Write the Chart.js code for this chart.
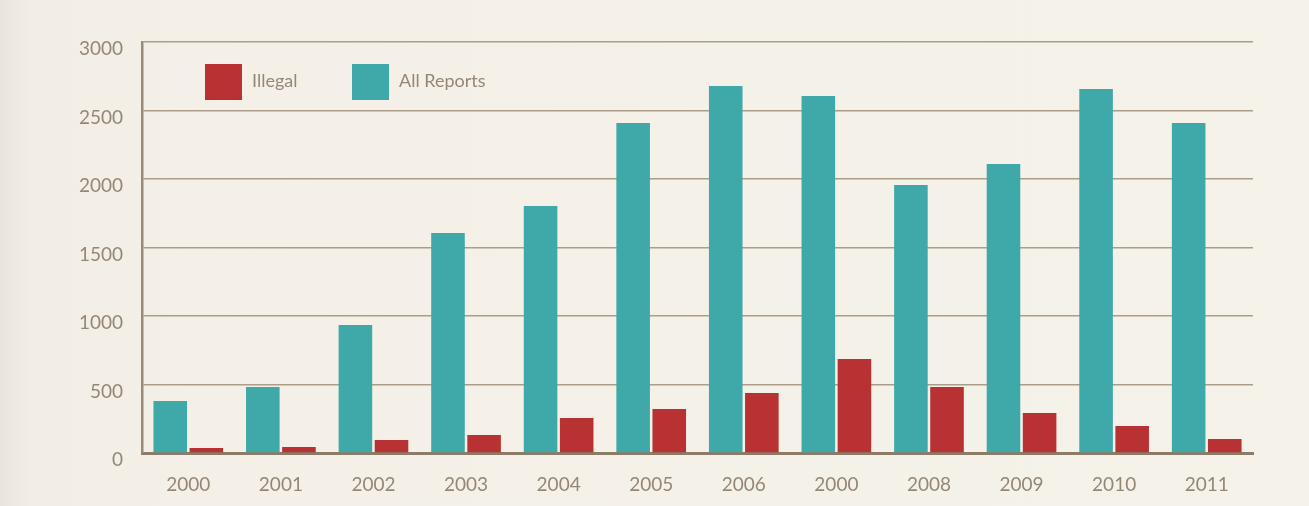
<!DOCTYPE html>
<html lang="en">
<head>
  <meta charset="UTF-8" />
  <title>Illegal vs All Reports</title>
  <script src="https://cdn.jsdelivr.net/npm/chart.js"></script>
  <style>
    html, body {
      margin: 0;
      padding: 0;
      width: 1309px;
      height: 506px;
      overflow: hidden;
    }
    body {
      background: #f3efe6;
      background-image: linear-gradient(to right, #e9e5dc 0px, #f2eee5 30px, #f4f0e8 200px, #f5f2ea 100%);
    }
    canvas {
      display: block;
    }
  </style>
</head>
<body>
  <canvas id="reportsChart" width="1309" height="506"></canvas>

  <script>
    const years = ['2000', '2001', '2002', '2003', '2004', '2005', '2006', '2000', '2008', '2009', '2010', '2011'];
    const allReports = [380, 482, 934, 1606, 1803, 2409, 2679, 2606, 1956, 2109, 2657, 2409];
    const illegal = [36, 44, 95, 131, 255, 321, 438, 686, 482, 292, 197, 102];
    const yTicks = [0, 500, 1000, 1500, 2000, 2500, 3000];

    const teal = '#3fa8a8';
    const red = '#b83233';
    const textColor = '#958776';
    const fontFamily = 'Lato, "Open Sans", sans-serif';

    // legend sits inside the plot, Illegal first
    const insideLegend = {
      id: 'insideLegend',
      afterDraw(chart) {
        const ctx = chart.ctx;
        const items = [
          { label: chart.data.datasets[1].label, color: red, x: 205 },
          { label: chart.data.datasets[0].label, color: teal, x: 352 }
        ];
        ctx.save();
        ctx.font = '18px ' + fontFamily;
        ctx.textBaseline = 'middle';
        items.forEach(it => {
          ctx.fillStyle = it.color;
          ctx.fillRect(it.x, 64, 37, 36);
          ctx.fillStyle = textColor;
          ctx.fillText(it.label, it.x + 47, 81);
        });
        ctx.restore();
      }
    };

    const ctx = document.getElementById('reportsChart').getContext('2d');
    new Chart(ctx, {
      type: 'bar',
      data: {
        labels: years,
        datasets: [
          { label: 'All Reports', data: allReports, backgroundColor: teal },
          { label: 'Illegal', data: illegal, backgroundColor: red }
        ]
      },
      options: {
        responsive: false,
        animation: false,
        layout: { padding: { top: 42, right: 56, left: 0, bottom: 0 } },
        plugins: {
          legend: { display: false },
          tooltip: { enabled: false }
        },
        datasets: {
          bar: { categoryPercentage: 0.78, barPercentage: 0.93 }
        },
        scales: {
          x: {
            grid: { display: false },
            border: { display: true, color: '#8c7b66', width: 3 },
            ticks: {
              color: textColor,
              font: { family: fontFamily, size: 19 },
              padding: 12,
              maxRotation: 0,
              autoSkip: false
            },
            afterFit(scale) { scale.height = 53; }
          },
          y: {
            min: 0,
            max: 3000,
            afterBuildTicks(scale) {
              scale.ticks = yTicks.map(v => ({ value: v }));
            },
            grid: {
              color: '#ab9d88',
              lineWidth: 1.5,
              drawTicks: false
            },
            border: { display: true, color: '#9a8a74', width: 2.5 },
            ticks: {
              color: textColor,
              font: { family: fontFamily, size: 19 },
              padding: 19,
              labelOffset: 7,
              autoSkip: false,
              callback: v => String(v)
            },
            afterFit(scale) { scale.width = 142; }
          }
        }
      },
      plugins: [insideLegend]
    });
  </script>
</body>
</html>
